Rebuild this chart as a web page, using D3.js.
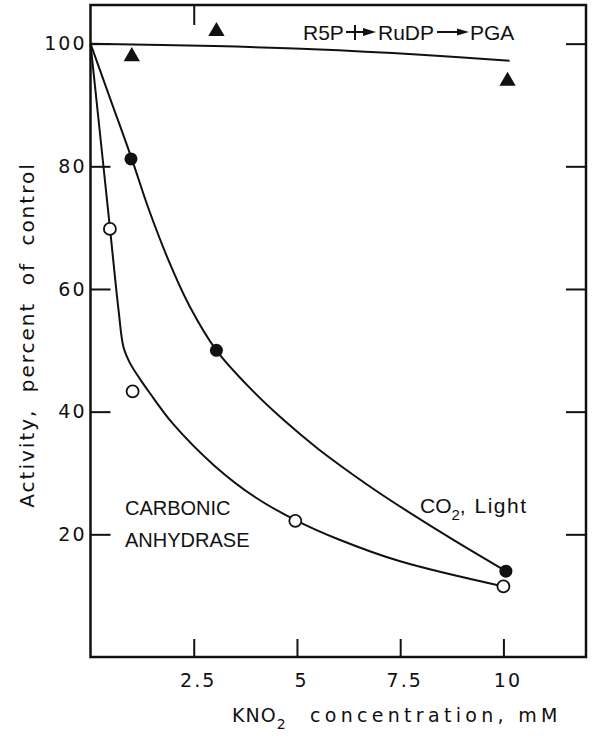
<!DOCTYPE html>
<html>
<head>
<meta charset="utf-8">
<script src="https://cdn.jsdelivr.net/npm/d3@7"></script>
<style>
  body { margin: 0; background: #fff; }
</style>
</head>
<body>
<div id="chart"></div>
<script>
// Activity (percent of control) against KNO2 concentration (mM)

// R5P -> RuDP -> PGA, triangles
const rubpX = [1, 3.05, 10.1];
const rubpY = [97.9, 102, 93.9];
const rubpCurve = [[0, 100], [3, 99.6], [5.4, 99.1], [8, 98.2], [10.15, 97.2]];

// CO2, Light, filled circles
const co2X = [0.98, 3.05, 10.06];
const co2Y = [81.2, 50, 14];
const co2Curve = [[0, 100], [0.5, 90.6], [1, 81.2], [1.4, 73.2], [1.9, 64.5], [2.4, 57.2],
    [3.05, 50], [3.87, 43.8], [4.7, 38.5], [5.5, 34], [6.3, 30], [7.05, 26.5], [8.64, 19.7],
    [10.06, 14]];

// carbonic anhydrase, open circles
const caX = [0.47, 1.02, 4.96, 10];
const caY = [69.8, 43.3, 22.2, 11.5];
const caCurve = [[0, 100], [0.47, 70], [0.68, 56.5], [0.8, 50.5], [0.95, 48], [1.2, 45.3],
    [1.44, 43], [2, 38], [3, 31.2], [4, 26], [5, 22.2], [6, 19.2], [7.5, 15.6], [10, 11.5]];

const xTicks = [2.5, 5, 7.5, 10];
const xTickLabels = ["2.5", "5", "7.5", "10"];
const yTicks = [20, 40, 60, 80, 100];
const topTicks = [2.5];

const width = 594;
const height = 740;
const ink = "#111";

const x = d3.scaleLinear().domain([0, 12]).range([90.5, 586]);
const y = d3.scaleLinear().domain([0, 106.3]).range([657, 5]);

const svg = d3.select("#chart").append("svg")
    .attr("width", width)
    .attr("height", height)
    .attr("viewBox", [0, 0, width, height]);

// frame
svg.append("rect")
    .attr("x", x(0))
    .attr("y", y(106.3))
    .attr("width", x(12) - x(0))
    .attr("height", y(0) - y(106.3))
    .attr("fill", "none")
    .attr("stroke", ink)
    .attr("stroke-width", 2.5);

// style an axis group: no domain, thick ticks, wide labels
function styleAxis(g) {
    g.select(".domain").remove();
    g.selectAll(".tick line").attr("stroke", ink).attr("stroke-width", 2);
    g.attr("font-family", "'DejaVu Sans', sans-serif")
        .attr("font-size", 19);
    g.selectAll(".tick text").attr("fill", ink).attr("letter-spacing", 2);
}

svg.append("g")
    .attr("transform", `translate(0,${y(0)})`)
    .call(d3.axisBottom(x).tickValues(xTicks).tickFormat((d, i) => xTickLabels[i])
        .tickSize(-18).tickPadding(17))
    .call(styleAxis)
    .call(g => g.selectAll(".tick text").attr("dx", 4));

svg.append("g")
    .attr("transform", `translate(${x(0)},0)`)
    .call(d3.axisLeft(y).tickValues(yTicks).tickSize(-20).tickPadding(4))
    .call(styleAxis);

svg.append("g")
    .attr("transform", `translate(${x(12)},0)`)
    .call(d3.axisRight(y).tickValues(yTicks).tickSize(-20).tickFormat(""))
    .call(styleAxis);

svg.append("g")
    .attr("transform", `translate(0,${y(106.3)})`)
    .call(d3.axisTop(x).tickValues(topTicks).tickSize(-20).tickFormat(""))
    .call(styleAxis);

// fitted curves
const line = d3.line()
    .x(d => x(d[0]))
    .y(d => y(d[1]))
    .curve(d3.curveCatmullRom.alpha(0.5));

[rubpCurve, co2Curve, caCurve].forEach(c => {
    svg.append("path")
        .datum(c)
        .attr("d", line)
        .attr("fill", "none")
        .attr("stroke", ink)
        .attr("stroke-width", 2);
});

// points
svg.append("g")
    .selectAll("path")
    .data(rubpX.map((d, i) => [d, rubpY[i]]))
    .join("path")
    .attr("transform", d => `translate(${x(d[0])},${y(d[1])})`)
    .attr("d", d3.symbol(d3.symbolTriangle, 115))
    .attr("fill", ink);

svg.append("g")
    .selectAll("circle")
    .data(co2X.map((d, i) => [d, co2Y[i]]))
    .join("circle")
    .attr("cx", d => x(d[0]))
    .attr("cy", d => y(d[1]))
    .attr("r", 6.5)
    .attr("fill", ink);

svg.append("g")
    .selectAll("circle")
    .data(caX.map((d, i) => [d, caY[i]]))
    .join("circle")
    .attr("cx", d => x(d[0]))
    .attr("cy", d => y(d[1]))
    .attr("r", 6)
    .attr("fill", "#fff")
    .attr("stroke", ink)
    .attr("stroke-width", 1.8);

// annotations
const label = svg.append("g")
    .attr("font-family", "'Liberation Sans', Arial, sans-serif")
    .attr("fill", ink);

label.append("text").attr("x", 303).attr("y", 40).attr("font-size", 21).text("R5P");
label.append("text").attr("x", 378).attr("y", 40).attr("font-size", 21).text("RuDP");
label.append("text").attr("x", 470).attr("y", 40).attr("font-size", 21).text("PGA");

// blocked arrow R5P -> RuDP, plain arrow RuDP -> PGA
svg.append("line").attr("x1", 346).attr("x2", 368).attr("y1", 32).attr("y2", 32)
    .attr("stroke", ink).attr("stroke-width", 2);
svg.append("line").attr("x1", 355).attr("x2", 355).attr("y1", 25).attr("y2", 40)
    .attr("stroke", ink).attr("stroke-width", 2);
svg.append("path").attr("d", "M376,32 L363,28 L363,36 Z").attr("fill", ink);
svg.append("line").attr("x1", 437).attr("x2", 460).attr("y1", 32).attr("y2", 32)
    .attr("stroke", ink).attr("stroke-width", 2);
svg.append("path").attr("d", "M469,32 L457,28.5 L457,35.5 Z").attr("fill", ink);

label.append("text").attr("x", 125).attr("y", 515).attr("font-size", 20).text("CARBONIC");
label.append("text").attr("x", 125).attr("y", 547).attr("font-size", 20).text("ANHYDRASE");

const co2Label = label.append("text").attr("x", 420).attr("y", 513).attr("font-size", 21);
co2Label.append("tspan").text("CO");
co2Label.append("tspan").attr("font-size", 15).attr("dy", 7).text("2");
co2Label.append("tspan").attr("dy", -7).attr("letter-spacing", 1.5).text(", Light");

// axis titles
const titles = svg.append("g")
    .attr("font-family", "'DejaVu Sans', sans-serif")
    .attr("fill", ink);

titles.append("text")
    .attr("transform", "translate(34,335) rotate(-90)")
    .attr("text-anchor", "middle")
    .attr("font-size", 20)
    .attr("letter-spacing", 2)
    .attr("word-spacing", 8)
    .text("Activity, percent of control");

const xTitle = titles.append("text").attr("y", 722).attr("font-size", 19);
xTitle.append("tspan").attr("x", 232).attr("letter-spacing", 1).text("KNO");
xTitle.append("tspan").attr("font-size", 14).attr("dy", 7).text("2");
xTitle.append("tspan").attr("x", 310).attr("dy", -7).attr("letter-spacing", 4.3).text("concentration, mM");
</script>
</body>
</html>
